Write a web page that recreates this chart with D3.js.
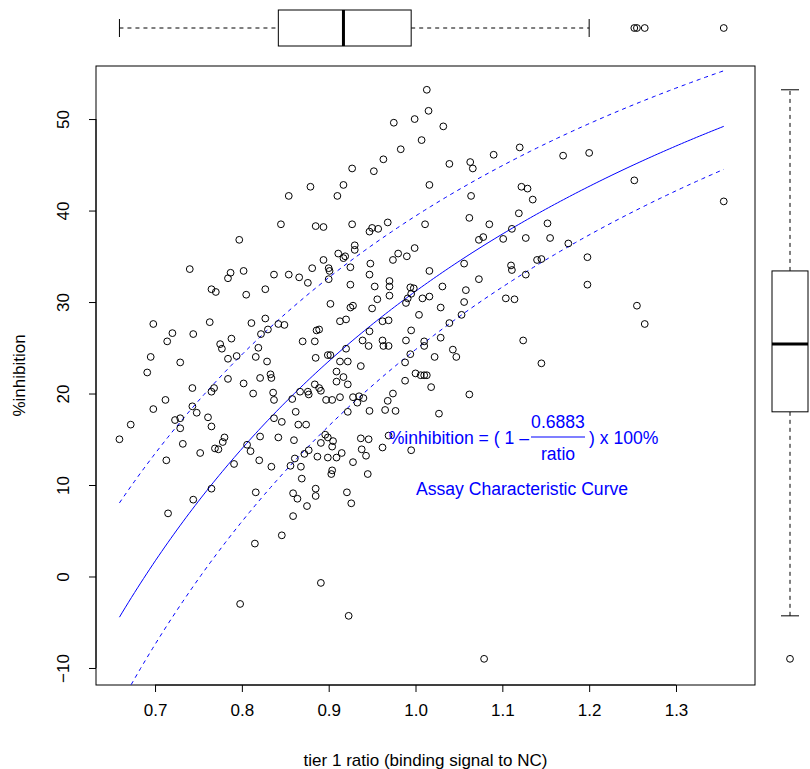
<!DOCTYPE html>
<html><head><meta charset="utf-8">
<script src="https://cdn.jsdelivr.net/npm/d3@7"></script>
<style>
body{margin:0;background:#fff;}
text{font-family:"Liberation Sans",Arial,sans-serif;}
</style></head>
<body>
<svg id="chart" width="810" height="769"></svg>
<script>
const ratio = [1.013,1.015,0.999,0.975,1.032,1.007,0.983,0.963,0.927,0.952,0.879,0.917,1.016,0.854,0.910,
1.039,1.063,1.066,1.090,1.120,1.170,1.200,1.064,1.122,1.129,1.135,1.119,1.062,
0.797,0.740,0.787,0.784,0.802,0.837,0.765,0.770,0.805,0.827,0.698,0.763,0.811,0.827,0.720,0.714,0.744,0.822,0.830,0.775,0.788,0.819,0.777,
0.845,0.885,0.894,0.927,0.968,1.011,0.950,0.947,0.957,0.930,0.930,0.911,0.919,0.917,0.894,0.980,0.974,0.990,0.999,0.948,0.881,0.900,0.901,0.925,0.854,0.866,0.876,0.900,0.947,1.016,0.925,0.953,0.970,0.970,0.970,0.994,0.998,1.031,0.995,0.991,0.989,1.008,1.016,0.956,0.902,0.928,0.925,0.950,1.029,1.004,0.842,0.849,0.913,0.920,0.962,0.969,0.886,0.889,0.947,0.995,0.870,0.884,0.920,0.939,0.946,0.962,0.963,0.969,0.989,1.010,1.010,1.029,
1.085,1.152,1.111,1.078,1.073,1.101,1.127,1.155,1.176,1.198,1.140,1.145,1.056,1.110,1.111,1.127,1.073,1.058,1.198,1.056,1.104,1.114,1.053,1.039,1.124,1.043,1.047,
0.695,0.729,0.691,0.784,0.794,0.816,0.829,0.784,0.802,0.821,0.833,0.834,0.743,0.765,0.768,0.813,0.836,0.712,0.698,0.743,0.748,0.723,0.729,0.761,0.837,0.672,0.729,0.765,0.659,0.732,0.780,0.778,0.769,0.773,0.752,0.713,0.821,0.806,0.810,0.837,0.820,0.834,0.791,
0.885,0.899,0.902,0.913,0.922,0.937,0.909,0.917,0.909,0.922,0.884,0.867,0.876,0.877,0.889,0.891,0.858,0.897,0.904,0.913,0.928,0.933,0.935,0.940,0.922,0.862,0.846,0.865,0.874,0.947,0.965,0.977,0.968,0.974,0.994,0.988,1.022,1.000,1.006,1.010,1.013,0.988,1.018,1.027,0.842,0.860,0.896,0.899,0.905,0.891,0.904,0.937,0.946,0.969,0.962,0.938,0.943,0.915,0.909,0.899,0.887,0.877,0.872,0.861,0.856,0.868,0.928,0.995,0.904,0.903,0.869,0.945,
1.145,1.062,
0.765,0.744,0.715,0.816,0.815,0.798,
0.859,0.864,0.885,0.885,0.875,0.921,0.926,0.859,0.846,0.891,0.923,
1.079,1.252,1.255,1.264,1.355];

const inhibition = [53.2,50.9,50.0,49.6,49.2,47.7,46.7,45.6,44.6,44.3,42.6,42.8,42.8,41.6,41.6,
45.1,45.3,44.6,46.1,46.9,46.0,46.3,41.6,42.6,42.4,41.2,39.7,39.2,
36.8,33.6,33.2,32.6,33.4,33.0,31.4,31.1,30.8,31.4,27.6,27.8,27.7,28.2,26.6,25.7,26.5,26.5,27.0,25.4,26.0,25.0,24.9,
38.5,38.3,38.2,38.5,38.7,38.5,38.1,37.7,38.0,36.2,35.7,35.3,35.0,34.8,34.6,35.3,34.6,35.0,35.9,34.2,33.7,33.7,33.4,33.8,33.0,32.7,32.1,32.5,33.0,33.4,31.9,31.7,32.3,31.7,30.7,31.6,31.5,31.7,30.9,30.4,29.9,30.4,30.6,30.3,29.8,29.6,29.4,29.3,29.4,28.6,27.6,27.5,27.9,28.1,27.9,28.0,26.9,27.0,26.8,26.9,25.7,25.7,24.9,25.8,25.2,25.8,25.2,25.2,25.8,25.7,25.2,26.1,
38.5,38.6,38.0,37.1,36.8,36.9,37.0,37.0,36.4,34.9,34.6,34.7,34.2,34.0,33.5,33.0,32.5,31.3,31.9,30.0,30.4,30.3,28.6,27.7,25.8,24.8,24.0,
24.0,23.4,22.3,23.8,24.1,24.0,23.5,21.6,21.1,21.7,22.1,21.7,20.6,20.2,20.6,20.0,20.1,19.3,18.3,18.6,17.9,17.1,17.3,17.4,19.3,16.6,16.2,16.4,15.0,14.5,15.2,14.7,14.0,13.9,13.5,12.7,15.3,14.4,13.7,17.3,12.7,12.0,12.3,
23.9,24.2,24.2,23.5,23.5,23.0,22.4,21.8,21.3,21.0,21.0,20.2,20.2,19.9,20.6,20.3,19.4,19.3,19.3,19.6,19.6,19.0,19.7,19.5,18.0,18.0,16.9,16.6,16.6,18.1,18.2,18.1,19.2,20.0,24.3,23.4,24.0,22.2,22.0,22.0,22.0,21.4,20.7,17.8,15.2,14.9,15.5,15.2,14.8,14.6,14.2,15.1,15.0,15.4,14.1,13.9,13.2,13.5,13.0,13.0,13.1,13.8,13.4,12.9,12.1,12.0,12.5,13.8,11.6,11.2,10.7,11.2,
23.3,19.9,
9.6,8.4,6.9,9.2,3.6,-3.0,
9.1,8.5,9.6,8.8,7.7,9.2,8.0,6.6,4.5,-0.7,-4.3,
-9.0,43.3,29.6,27.6,41.0];

const xTicks = [0.7,0.8,0.9,1.0,1.1,1.2,1.3];
const yTicks = [-10,0,10,20,30,40,50];
const curveCoef = 0.6883;      // fitted curve
const bandCoefs = [0.606, 0.752]; // dashed band (upper, lower)
const xLabel = "tier 1 ratio (binding signal to NC)";
const yLabel = "%inhibition";
const eqLeft = "%inhibition = ( 1 \u2013";
const eqNum = "0.6883";
const eqDen = "ratio";
const eqRight = ") x 100%";
const curveLabel = "Assay Characteristic Curve";

const svg = d3.select("#chart");
const L=96, R=755, T=66, B=685;
const x = d3.scaleLinear().domain([0.632, 1.391]).range([L, R]);
const y = d3.scaleLinear().domain([-11.86, 55.8]).range([B, T]);
const blue = "#0000ff";
const fs = 17;
const fsA = 17.6;

svg.append("clipPath").attr("id","clip").append("rect")
  .attr("x",L).attr("y",T).attr("width",R-L).attr("height",B-T);

// axes
const xa = svg.append("g").attr("transform",`translate(0,${B})`)
  .call(d3.axisBottom(x).tickValues(xTicks).tickSize(7).tickSizeOuter(0).tickPadding(12).tickFormat(d3.format(".1f")));
xa.select(".domain").attr("d",`M${x(xTicks[0])},0H${x(xTicks[xTicks.length-1])}`);
xa.selectAll("text").attr("font-size",fs).attr("fill","#000").attr("font-family","Liberation Sans, Arial");
xa.selectAll("line,path").attr("stroke","#000");

const ya = svg.append("g").attr("transform",`translate(${L},0)`)
  .call(d3.axisLeft(y).tickValues(yTicks).tickSize(7).tickSizeOuter(0).tickFormat(d3.format("d")));
ya.select(".domain").attr("d",`M0,${y(yTicks[0])}V${y(yTicks[yTicks.length-1])}`);
ya.selectAll("line,path").attr("stroke","#000");
ya.selectAll("text").remove();
ya.selectAll(".tick").append("text")
  .attr("transform","translate(-27,0) rotate(-90)")
  .attr("text-anchor","middle").attr("font-size",fs).attr("fill","#000")
  .attr("font-family","Liberation Sans, Arial")
  .text(d=>d3.format("d")(d));

svg.append("rect").attr("x",L).attr("y",T).attr("width",R-L).attr("height",B-T)
  .attr("fill","none").attr("stroke","#000");

svg.append("text").attr("x",(L+R)/2).attr("y",766).attr("text-anchor","middle")
  .attr("font-size",fs).text(xLabel);
svg.append("text").attr("transform",`translate(25,${(T+B)/2}) rotate(-90)`)
  .attr("text-anchor","middle").attr("font-size",fs).text(yLabel);

// curves
const xmin = d3.min(ratio), xmax = d3.max(ratio);
const xs = d3.range(0,201).map(i=>xmin+(xmax-xmin)*i/200);
const line = c => d3.line().x(d=>x(d)).y(d=>y((1-c/d)*100))(xs);
const g = svg.append("g").attr("clip-path","url(#clip)");
g.append("path").attr("d",line(curveCoef)).attr("fill","none").attr("stroke",blue).attr("stroke-width",1);
bandCoefs.forEach(c=>g.append("path").attr("d",line(c)).attr("fill","none")
  .attr("stroke",blue).attr("stroke-width",1).attr("stroke-dasharray","4,4"));

// points
const pts = ratio.map((r,i)=>[r,inhibition[i]]);
svg.append("g").selectAll("circle").data(pts).join("circle")
  .attr("cx",d=>x(d[0])).attr("cy",d=>y(d[1])).attr("r",3.4)
  .attr("fill","none").attr("stroke","#000").attr("stroke-width",1);

// equation
const eq = svg.append("g").attr("fill",blue).attr("font-size",fsA);
eq.append("text").attr("x",529).attr("y",444).attr("text-anchor","end").text(eqLeft);
eq.append("text").attr("x",558).attr("y",428).attr("text-anchor","middle").text(eqNum);
eq.append("text").attr("x",558).attr("y",460).attr("text-anchor","middle").text(eqDen);
eq.append("line").attr("x1",531).attr("x2",585).attr("y1",437).attr("y2",437).attr("stroke",blue).attr("stroke-width",1.2);
eq.append("text").attr("x",589).attr("y",444).text(eqRight);
svg.append("text").attr("x",522).attr("y",495).attr("text-anchor","middle")
  .attr("fill",blue).attr("font-size",fsA).text(curveLabel);

// boxplot stats (Tukey hinges)
function boxStats(arr){
  const s = arr.slice().sort(d3.ascending), n=s.length;
  const n4 = Math.floor((n+3)/2)/2;
  const d = [1, n4, (n+1)/2, n+1-n4, n];
  const f = d.map(v=>0.5*(s[Math.floor(v)-1]+s[Math.ceil(v)-1]));
  const iqr = f[3]-f[1];
  const lo = d3.min(s.filter(v=>v>=f[1]-1.5*iqr)), hi = d3.max(s.filter(v=>v<=f[3]+1.5*iqr));
  return {q1:f[1], med:f[2], q3:f[3], lo, hi, out:s.filter(v=>v<lo||v>hi)};
}
// top boxplot (ratio)
(function(){
  const st = boxStats(ratio), cy=28, h=18, g=svg.append("g");
  g.append("line").attr("x1",x(st.lo)).attr("x2",x(st.q1)).attr("y1",cy).attr("y2",cy).attr("stroke","#000").attr("stroke-dasharray","4,4");
  g.append("line").attr("x1",x(st.q3)).attr("x2",x(st.hi)).attr("y1",cy).attr("y2",cy).attr("stroke","#000").attr("stroke-dasharray","4,4");
  [st.lo, st.hi].forEach(v=>g.append("line").attr("x1",x(v)).attr("x2",x(v)).attr("y1",cy-h/2).attr("y2",cy+h/2).attr("stroke","#000"));
  g.append("rect").attr("x",x(st.q1)).attr("y",cy-h).attr("width",x(st.q3)-x(st.q1)).attr("height",2*h).attr("fill","#fff").attr("stroke","#000");
  g.append("line").attr("x1",x(st.med)).attr("x2",x(st.med)).attr("y1",cy-h).attr("y2",cy+h).attr("stroke","#000").attr("stroke-width",3);
  g.selectAll("circle").data(st.out).join("circle").attr("cx",d=>x(d)).attr("cy",cy).attr("r",3.4).attr("fill","none").attr("stroke","#000");
})();
// right boxplot (inhibition)
(function(){
  const st = boxStats(inhibition), cx=790, w=18, g=svg.append("g");
  g.append("line").attr("y1",y(st.lo)).attr("y2",y(st.q1)).attr("x1",cx).attr("x2",cx).attr("stroke","#000").attr("stroke-dasharray","4,4");
  g.append("line").attr("y1",y(st.q3)).attr("y2",y(st.hi)).attr("x1",cx).attr("x2",cx).attr("stroke","#000").attr("stroke-dasharray","4,4");
  [st.lo, st.hi].forEach(v=>g.append("line").attr("y1",y(v)).attr("y2",y(v)).attr("x1",cx-w/2).attr("x2",cx+w/2).attr("stroke","#000"));
  g.append("rect").attr("y",y(st.q3)).attr("x",cx-w).attr("height",y(st.q1)-y(st.q3)).attr("width",2*w).attr("fill","#fff").attr("stroke","#000");
  g.append("line").attr("y1",y(st.med)).attr("y2",y(st.med)).attr("x1",cx-w).attr("x2",cx+w).attr("stroke","#000").attr("stroke-width",3);
  g.selectAll("circle").data(st.out).join("circle").attr("cy",d=>y(d)).attr("cx",cx).attr("r",3.4).attr("fill","none").attr("stroke","#000");
})();
</script>
</body></html>
